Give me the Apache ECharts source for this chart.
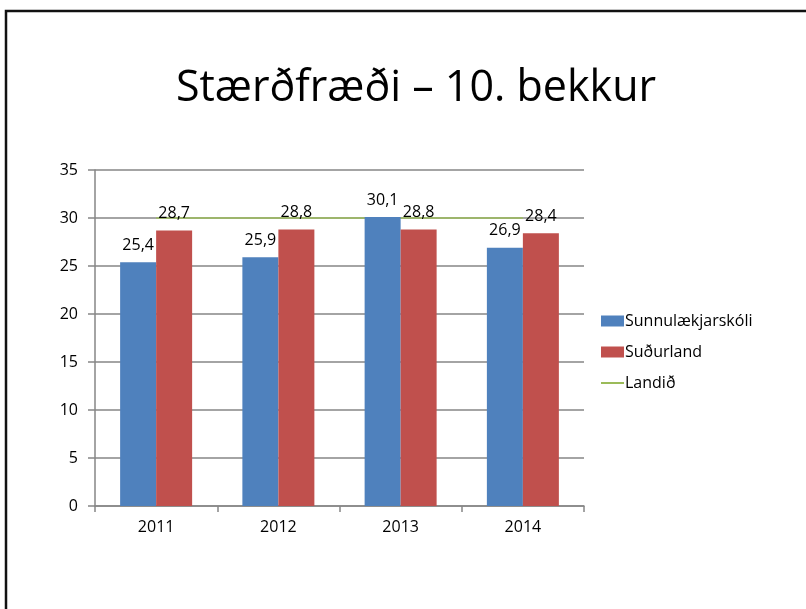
<!DOCTYPE html>
<html>
<head>
<meta charset="utf-8">
<script src="https://cdn.jsdelivr.net/npm/echarts@6/dist/echarts.min.js"></script>
<style>
  html, body { margin: 0; padding: 0; background: #fff; }
  #chart { width: 806px; height: 609px; }
</style>
</head>
<body>
<div id="chart"></div>
<script>
// data
var years = ['2011', '2012', '2013', '2014']
var skoli = [25.4, 25.9, 30.1, 26.9]
var sudurland = [28.7, 28.8, 28.8, 28.4]
var landid = [30, 30, 30, 30]
var seriesNames = ['Sunnulækjarskóli', 'Suðurland', 'Landið']

var font = '"Open Sans", "Noto Sans", sans-serif'

function comma(p) {
  return String(p.value).replace('.', ',')
}

var chart = echarts.init(document.getElementById('chart'))

chart.setOption({
  backgroundColor: '#fff',
  animation: false,
  textStyle: { fontFamily: font, color: '#000' },
  graphic: [{
    type: 'polyline',
    shape: { points: [[6, 609], [6, 11], [806, 11]] },
    style: { stroke: '#111', lineWidth: 2.5, fill: null }
  }],
  title: {
    text: 'Stærðfræði – 10. bekkur',
    left: 411,
    textAlign: 'center',
    top: 62,
    textStyle: { fontFamily: font, fontSize: 43, fontWeight: 'normal', color: '#000' }
  },
  legend: {
    orient: 'vertical',
    left: 595,
    top: 308,
    itemGap: 15,
    itemWidth: 23,
    itemHeight: 11,
    data: [
      { name: seriesNames[0], icon: 'rect' },
      { name: seriesNames[1], icon: 'rect' },
      { name: seriesNames[2], itemStyle: { opacity: 0 } }
    ],
    textStyle: { fontFamily: font, fontSize: 16, color: '#000', padding: [0, 0, 0, -4] }
  },
  grid: {
    left: 95,
    right: 222,
    top: 170,
    bottom: 103,
    containLabel: false
  },
  xAxis: {
    type: 'category',
    data: years,
    axisLine: { lineStyle: { color: '#868686', width: 1.5 } },
    axisTick: { show: true, length: 6, lineStyle: { color: '#868686', width: 1.5 } },
    axisLabel: { color: '#000', fontSize: 16, margin: 13, fontFamily: font }
  },
  yAxis: {
    type: 'value',
    min: 0,
    max: 35,
    interval: 5,
    axisLine: { show: true, lineStyle: { color: '#868686', width: 1.5 } },
    axisTick: { show: true, length: 7, lineStyle: { color: '#868686', width: 1.5 } },
    axisLabel: { color: '#000', fontSize: 16, margin: 17, fontFamily: font },
    splitLine: { show: true, lineStyle: { color: '#868686', width: 1.5 } }
  },
  series: [
    {
      name: seriesNames[0],
      type: 'bar',
      data: skoli,
      barWidth: 36,
      barGap: '0%',
      itemStyle: { color: '#4F81BD' },
      label: {
        show: true, position: 'top', distance: 9, formatter: comma,
        fontSize: 16, color: '#000', fontFamily: font
      },
      z: 3
    },
    {
      name: seriesNames[1],
      type: 'bar',
      data: sudurland,
      barWidth: 36,
      barGap: '0%',
      itemStyle: { color: '#C0504D' },
      label: {
        show: true, position: 'top', distance: 9, formatter: comma,
        fontSize: 16, color: '#000', fontFamily: font
      },
      z: 3
    },
    {
      name: seriesNames[2],
      type: 'line',
      data: landid,
      symbol: 'none',
      itemStyle: { color: '#9BBB59' },
      lineStyle: { color: '#9BBB59', width: 1.5 },
      z: 2
    }
  ]
})
</script>
</body>
</html>
